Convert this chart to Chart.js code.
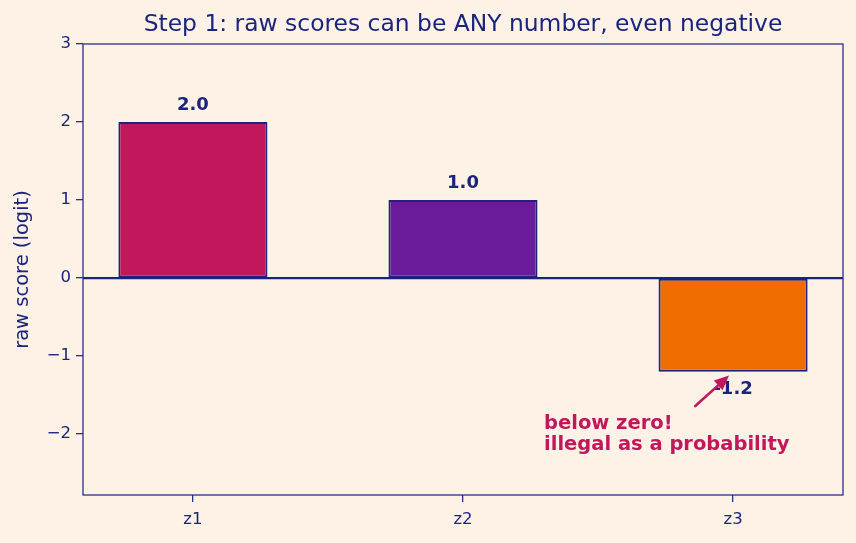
<!DOCTYPE html>
<html><head><meta charset="utf-8">
<script src="https://cdn.jsdelivr.net/npm/chart.js@4"></script>
<style>
html,body{margin:0;padding:0;background:#FEF1E6;}
#wrap{width:856px;height:543px;}
</style></head>
<body><div id="wrap"><canvas id="c" width="856" height="543"></canvas></div>
<script>
const categories = ['z1', 'z2', 'z3'];
const values = [2.0, 1.0, -1.2];
const yTicks = [-2, -1, 0, 1, 2, 3];
const barColors = ['#C2185B', '#6A1B9A', '#EF6C00'];
const titleText = 'Step 1: raw scores can be ANY number, even negative';
const yTitle = 'raw score (logit)';
const noteLines = ['below zero!', 'illegal as a probability'];
const notePos = [1.30, -1.98];
const arrowFrom = [1.86, -1.64];
const arrowTo = [1.985, -1.25];

const NAVY = '#1A237E';
const AXC = '#2B2F8A';
const FONT = "'DejaVu Sans', sans-serif";

const frame = {
  id: 'frame',
  beforeDatasetsDraw(chart) {
    const {ctx, chartArea: a, scales: {x, y}} = chart;
    ctx.save();
    ctx.strokeStyle = NAVY;
    ctx.lineWidth = 2.4;
    const y0 = y.getPixelForValue(0);
    ctx.beginPath(); ctx.moveTo(a.left, y0); ctx.lineTo(a.right, y0); ctx.stroke();
    // title centered over plot area
    ctx.fillStyle = NAVY;
    ctx.font = '23.4px ' + FONT;
    ctx.textAlign = 'center';
    ctx.textBaseline = 'alphabetic';
    ctx.fillText(titleText, (a.left + a.right) / 2, 31);
    ctx.restore();
  },
  afterDatasetsDraw(chart) {
    const {ctx, chartArea: a, scales: {x, y}} = chart;
    ctx.save();
    ctx.strokeStyle = AXC;
    ctx.lineWidth = 1.3;
    ctx.strokeRect(a.left, a.top, a.right - a.left, a.bottom - a.top);
    // value labels
    ctx.fillStyle = NAVY;
    ctx.font = 'bold 18px ' + FONT;
    ctx.textAlign = 'center';
    ctx.textBaseline = 'alphabetic';
    values.forEach((v, i) => {
      const px = x.getPixelForValue(i);
      const py = y.getPixelForValue(v);
      if (v >= 0) ctx.fillText(v.toFixed(1), px, py - 12);
      else ctx.fillText(v.toFixed(1), px, py + 22);
    });
    // annotation text
    ctx.fillStyle = '#C2185B';
    ctx.font = 'bold 19.5px ' + FONT;
    ctx.textAlign = 'left';
    const tx = x.getPixelForValue(notePos[0]);
    const ty = y.getPixelForValue(notePos[1]);
    ctx.fillText(noteLines[0], tx, ty - 4);
    ctx.fillText(noteLines[1], tx, ty + 17.5);
    // arrow
    const x1 = x.getPixelForValue(arrowFrom[0]), y1 = y.getPixelForValue(arrowFrom[1]);
    const x2 = x.getPixelForValue(arrowTo[0]), y2 = y.getPixelForValue(arrowTo[1]);
    ctx.strokeStyle = '#C2185B';
    ctx.lineWidth = 2.6;
    ctx.lineCap = 'round';
    const ang = Math.atan2(y2 - y1, x2 - x1);
    ctx.beginPath(); ctx.moveTo(x1, y1); ctx.lineTo(x2 - 6 * Math.cos(ang), y2 - 6 * Math.sin(ang)); ctx.stroke();
    ctx.fillStyle = '#C2185B';
    ctx.beginPath();
    ctx.moveTo(x2, y2);
    ctx.lineTo(x2 - 16 * Math.cos(ang - 0.42), y2 - 16 * Math.sin(ang - 0.42));
    ctx.lineTo(x2 - 16 * Math.cos(ang + 0.42), y2 - 16 * Math.sin(ang + 0.42));
    ctx.closePath(); ctx.fill();
    ctx.restore();
  }
};

new Chart(document.getElementById('c'), {
  type: 'bar',
  data: {
    datasets: [{
      data: values.map((v, i) => ({x: i, y: v})),
      backgroundColor: barColors,
      borderColor: NAVY,
      borderWidth: 2,
      borderSkipped: false,
      barPercentage: 0.552,
      categoryPercentage: 1.0
    }]
  },
  options: {
    responsive: false,
    animation: false,
    devicePixelRatio: 1,
    layout: {padding: {left: 0, right: 13, top: 44, bottom: 0}},
    plugins: {
      legend: {display: false},
      tooltip: {enabled: false},
      title: {display: false}
    },
    scales: {
      x: {
        type: 'linear', min: -0.407, max: 2.407, offset: false,
        afterBuildTicks(s) { s.ticks = categories.map((c, i) => ({value: i})); },
        ticks: {color: NAVY, font: {family: FONT, size: 16.5}, padding: 8,
          callback: (v) => categories[v] ?? ''},
        grid: {display: true, offset: false, drawOnChartArea: false, color: AXC, lineWidth: 1.3, tickLength: 7, tickColor: AXC},
        border: {display: false},
        afterFit(s) { s.height = 48; }
      },
      y: {
        min: -2.78, max: 3,
        afterBuildTicks(s) { s.ticks = yTicks.map(v => ({value: v})); },
        ticks: {color: NAVY, font: {family: FONT, size: 16.5}, padding: 5,
          callback: (v) => String(v).replace('-', '\u2212')},
        grid: {display: true, offset: false, drawOnChartArea: false, color: AXC, lineWidth: 1.3, tickLength: 7, tickColor: AXC},
        border: {display: false},
        title: {display: true, text: yTitle, color: NAVY, font: {family: FONT, size: 19.5, lineHeight: 1.2}, padding: {top: 11, bottom: 0}},
        afterFit(s) { s.width = 83; }
      }
    }
  },
  plugins: [frame]
});
</script></body></html>
